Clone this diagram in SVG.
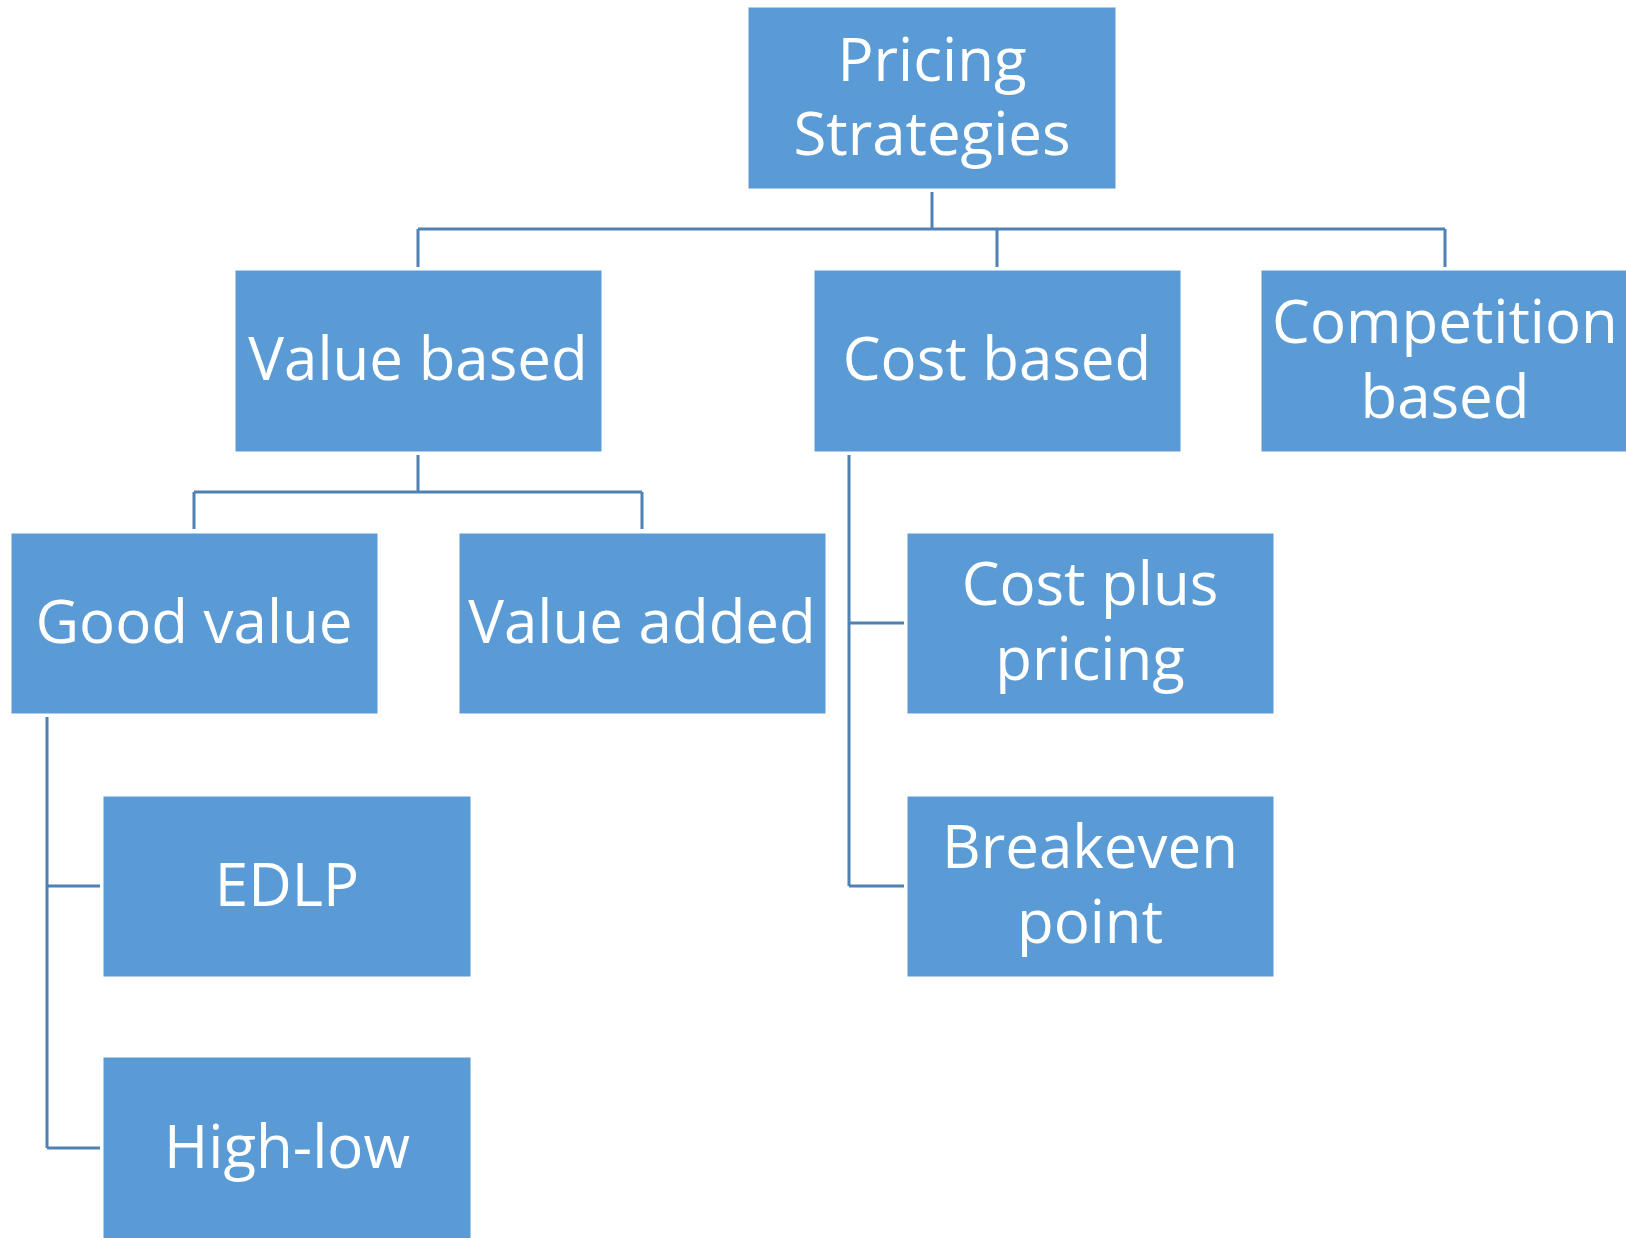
<svg xmlns="http://www.w3.org/2000/svg" width="1626" height="1238" viewBox="0 0 1626 1238">
  <style>
    .box { fill: #5B9BD5; stroke: #ffffff; stroke-width: 1; }
    .lbl { fill: #ffffff; font-family: "Open Sans", "Noto Sans", "Liberation Sans", sans-serif; font-size: 60px; text-anchor: middle; }
    .wire { fill: none; stroke: #4F81B5; stroke-width: 3; }
  </style>
  <rect width="1626" height="1238" fill="#ffffff"/>

  <!-- connectors -->
  <g id="connectors">
    <path class="wire" d="M932 192 V229 M418 229 H1445 M418 229 V267 M997 229 V267 M1445 229 V267"/>
    <path class="wire" d="M418 455 V492 M194 492 H642 M194 492 V529 M642 492 V529"/>
    <path class="wire" d="M47 717 V1148 M47 886 H100 M47 1148 H100"/>
    <path class="wire" d="M849 455 V886 M849 623 H904 M849 886 H904"/>
  </g>

  <!-- nodes -->
  <g id="pricing-strategies">
    <rect class="box" x="748" y="7" width="368" height="182"/>
    <text class="lbl" x="932" y="81">Pricing</text>
    <text class="lbl" x="932" y="155">Strategies</text>
  </g>
  <g id="value-based">
    <rect class="box" x="235" y="270" width="367" height="182"/>
    <text class="lbl" x="418" y="380">Value based</text>
  </g>
  <g id="cost-based">
    <rect class="box" x="814" y="270" width="367" height="182"/>
    <text class="lbl" x="997" y="380">Cost based</text>
  </g>
  <g id="competition-based">
    <rect class="box" x="1261" y="270" width="368" height="182"/>
    <text class="lbl" x="1445" y="343">Competition</text>
    <text class="lbl" x="1445" y="418">based</text>
  </g>
  <g id="good-value">
    <rect class="box" x="11" y="533" width="367" height="181"/>
    <text class="lbl" x="194" y="643">Good value</text>
  </g>
  <g id="value-added">
    <rect class="box" x="459" y="533" width="367" height="181"/>
    <text class="lbl" x="642" y="643">Value added</text>
  </g>
  <g id="cost-plus-pricing">
    <rect class="box" x="907" y="533" width="367" height="181"/>
    <text class="lbl" x="1090" y="605">Cost plus</text>
    <text class="lbl" x="1090" y="680">pricing</text>
  </g>
  <g id="edlp">
    <rect class="box" x="103" y="796" width="368" height="181"/>
    <text class="lbl" x="287" y="906">EDLP</text>
  </g>
  <g id="breakeven-point">
    <rect class="box" x="907" y="796" width="367" height="181"/>
    <text class="lbl" x="1090" y="868">Breakeven</text>
    <text class="lbl" x="1090" y="943">point</text>
  </g>
  <g id="high-low">
    <rect class="box" x="103" y="1057" width="368" height="190"/>
    <text class="lbl" x="287" y="1168">High-low</text>
  </g>
</svg>
